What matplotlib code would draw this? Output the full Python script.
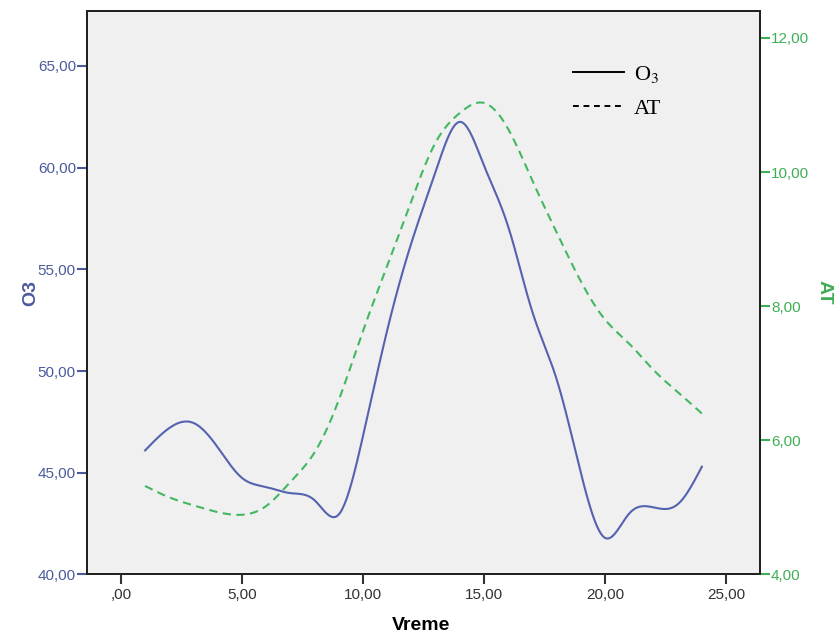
import numpy as np
import matplotlib
matplotlib.use('Agg')
import matplotlib.pyplot as plt
from matplotlib.lines import Line2D

# hourly values
hours = [1, 2, 3, 4, 5, 6, 7, 8, 9, 10, 11, 12,
         13, 14, 15, 16, 17, 18, 19, 20, 21, 22, 23, 24]
o3 = [46.1, 47.2, 47.45, 46.25, 44.75, 44.3, 44.0, 43.65, 42.95, 46.8, 52.0, 56.3,
      59.8, 62.25, 60.1, 57.1, 52.9, 49.6, 45.0, 41.8, 43.0, 43.3, 43.45, 45.3]
at = [5.32, 5.15, 5.03, 4.93, 4.89, 5.02, 5.38, 5.82, 6.6, 7.63, 8.6, 9.57,
      10.44, 10.88, 11.03, 10.64, 9.87, 9.1, 8.37, 7.8, 7.44, 7.05, 6.72, 6.40]

x_ticks = [0, 5, 10, 15, 20, 25]
o3_ticks = [40, 45, 50, 55, 60, 65]
at_ticks = [4, 6, 8, 10, 12]

BLUE = '#5462b0'
GREEN = '#42b862'
BLUE_TXT = '#4c5a9c'
GREEN_TXT = '#3fae55'


def spline(x, y, n=500):
    # natural cubic spline, like the SPSS interpolation line
    x = np.asarray(x, float)
    y = np.asarray(y, float)
    h = np.diff(x)
    m = len(x)
    A = np.zeros((m, m))
    b = np.zeros(m)
    A[0, 0] = A[-1, -1] = 1
    for i in range(1, m - 1):
        A[i, i - 1] = h[i - 1]
        A[i, i] = 2 * (h[i - 1] + h[i])
        A[i, i + 1] = h[i]
        b[i] = 3 * ((y[i + 1] - y[i]) / h[i] - (y[i] - y[i - 1]) / h[i - 1])
    c = np.linalg.solve(A, b)
    bb = (y[1:] - y[:-1]) / h - h * (2 * c[:-1] + c[1:]) / 3
    d = (c[1:] - c[:-1]) / (3 * h)
    xs = np.linspace(x[0], x[-1], n)
    k = np.clip(np.searchsorted(x, xs) - 1, 0, m - 2)
    t = xs - x[k]
    ys = y[k] + bb[k] * t + c[k] * t ** 2 + d[k] * t ** 3
    return xs, ys


def fmt(v):
    s = '%.2f' % v
    s = s.replace('.', ',')
    if s.startswith('0,'):
        s = s[1:]
    return s


plt.rcParams['font.family'] = ['Liberation Sans', 'DejaVu Sans']
plt.rcParams['mathtext.fontset'] = 'stix'

fig = plt.figure(figsize=(8.39, 6.36), dpi=100)
ax = fig.add_axes([0.1037, 0.0967, 0.8021, 0.886])
ax.set_facecolor('#f0f0f0')
ax2 = ax.twinx()

xs, ys = spline(hours, o3)
ax.plot(xs, ys, color=BLUE, lw=1.5)
xs2, ys2 = spline(hours, at)
ax2.plot(xs2, ys2, color=GREEN, lw=1.5, dashes=(4, 2.6))

ax.set_xlim(-1.4, 26.4)
ax.set_ylim(40, 67.7)
ax2.set_ylim(4, 12.4)

ax.set_xticks(x_ticks)
ax.set_xticklabels([fmt(v) for v in x_ticks])
ax.set_yticks(o3_ticks)
ax.set_yticklabels([fmt(v) for v in o3_ticks])
ax2.set_yticks(at_ticks)
ax2.set_yticklabels([fmt(v) for v in at_ticks])

ax.tick_params(axis='x', length=7, width=1.5, colors='#333333', labelsize=11, pad=3)
ax.tick_params(axis='y', length=7, width=1.5, color=BLUE_TXT, labelcolor=BLUE_TXT,
               labelsize=11, pad=1)
ax2.tick_params(axis='y', length=7, width=1.5, color=GREEN_TXT, labelcolor=GREEN_TXT,
                labelsize=11, pad=1)

for a in (ax, ax2):
    for sp in a.spines.values():
        sp.set_color('#222222')
        sp.set_linewidth(1.4)

ax.set_xlabel('Vreme', fontsize=14, fontweight='bold', va='center')
ax.xaxis.set_label_coords(0.497, -0.09)
ax.set_ylabel('O3', fontsize=14, fontweight='bold', color=BLUE_TXT, va='center')
ax.yaxis.set_label_coords(-0.083, 0.5)
ax2.set_ylabel('AT', fontsize=14, fontweight='bold', color=GREEN_TXT, rotation=270,
               va='center')
ax2.yaxis.set_label_coords(1.095, 0.5)

handles = [Line2D([], [], color='black', lw=1.4),
           Line2D([], [], color='black', lw=1.4, dashes=(3, 2.4))]
leg = ax.legend(handles, ['O$_3$', 'AT'], loc='upper left',
                bbox_to_anchor=(0.692, 0.941), frameon=False,
                handlelength=2.3, handletextpad=0.45, labelspacing=0.6,
                prop={'family': 'Liberation Serif', 'size': 16})

fig.savefig('out.png', dpi=100)
